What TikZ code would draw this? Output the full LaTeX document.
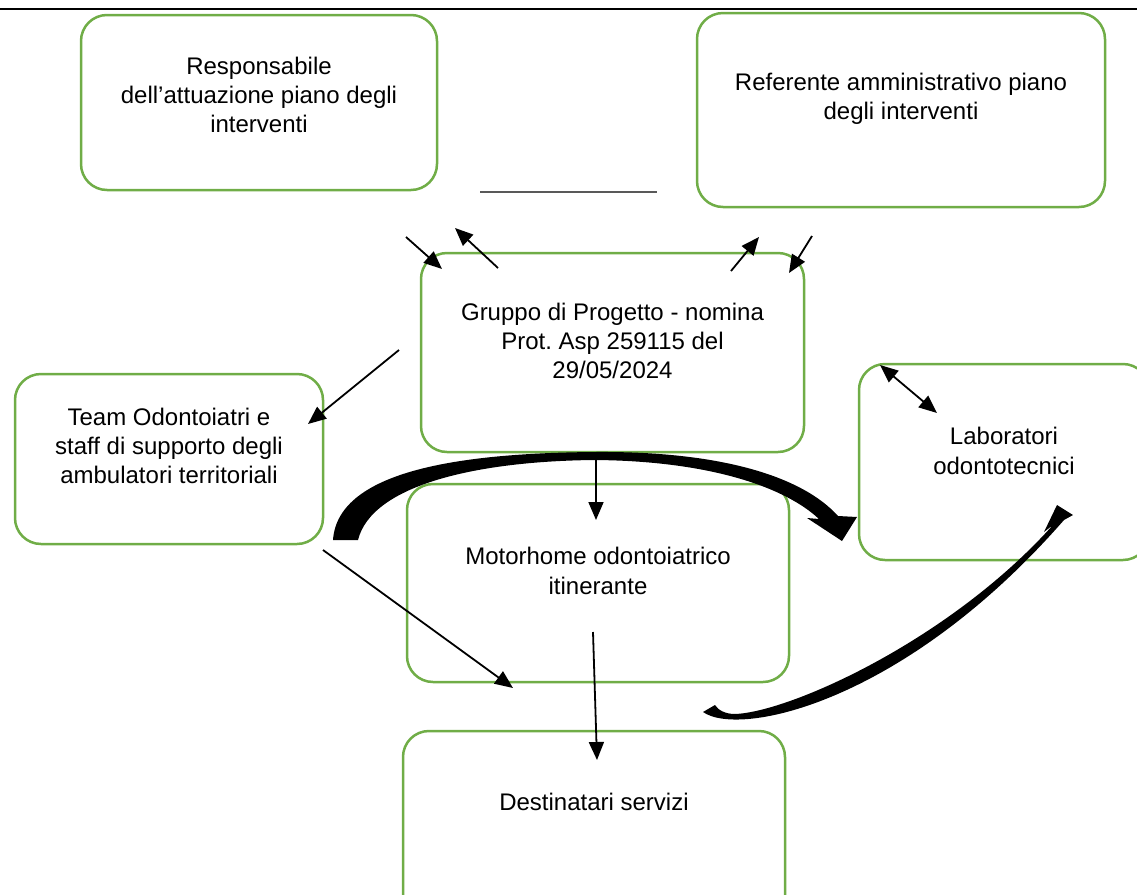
\documentclass[tikz,border=0pt]{standalone}
\usepackage{fontspec}
\setmainfont{Liberation Sans}
\usetikzlibrary{arrows.meta}
\definecolor{verde}{HTML}{70AD47}

\tikzset{
	riquadro/.style={draw=verde, line width=1.25pt, rounded corners=13pt, inner sep=0pt, outer sep=0pt},
	testo/.style={align=center, inner sep=0pt, font=\fontsize{12}{14.6}\selectfont},
	freccia/.style={-{Triangle[length=9pt,width=7.5pt]}, line width=0.9pt},
	doppia/.style={{Triangle[length=9pt,width=7.5pt]}-{Triangle[length=9pt,width=7.5pt]}, line width=0.9pt},
}

\begin{document}
\begin{tikzpicture}[x=0.5pt, y=-0.5pt]
	\useasboundingbox (0,0) rectangle (1137,895);

	\node[riquadro, minimum width=178pt, minimum height=87.5pt] (resp) at (259,102.5) {};
	\node[riquadro, minimum width=204pt, minimum height=97pt] (ref) at (901,110) {};
	\node[riquadro, minimum width=191.5pt, minimum height=99.5pt] (gruppo) at (612.5,352.5) {};
	\node[riquadro, minimum width=154pt, minimum height=85pt] (team) at (169,459) {};
	\node[riquadro, minimum width=145pt, minimum height=98pt] (lab) at (1004,462) {};
	\node[riquadro, minimum width=191pt, minimum height=99pt] (motor) at (598,583) {};
	\node[riquadro, minimum width=191pt, minimum height=99.5pt] (dest) at (594,830.5) {};

	\node[testo] (resp-t) at (259,95) {Responsabile\\dell’attuazione piano degli\\interventi};
	\node[testo] (ref-t) at (901,99) {Referente amministrativo piano\\degli interventi};
	\node[testo] (gruppo-t) at (612.5,341) {Gruppo di Progetto - nomina\\Prot.\ Asp 259115 del\\29/05/2024};
	\node[testo] (team-t) at (169,446) {Team Odontoiatri e\\staff di supporto degli\\ambulatori territoriali};
	\node[testo] (lab-t) at (1004,451) {Laboratori\\odontotecnici};
	\node[testo] (motor-t) at (598,571) {Motorhome odontoiatrico\\itinerante};
	\node[testo] (dest-t) at (594,802) {Destinatari servizi};

	\coordinate (bordo-sx) at (0,9);
	\coordinate (bordo-dx) at (1137,9);
	\coordinate (filo-sx) at (480,192);
	\coordinate (filo-dx) at (657,192);
	\coordinate (resp-giu) at (406,237);
	\coordinate (gruppo-nw) at (442,269);
	\coordinate (gruppo-su) at (498,268);
	\coordinate (resp-su) at (455,228);
	\coordinate (gruppo-ne) at (731,271);
	\coordinate (ref-su) at (759,237);
	\coordinate (ref-giu) at (812,236);
	\coordinate (gruppo-dx) at (789,273);
	\coordinate (gruppo-sx) at (399,350);
	\coordinate (team-in) at (308,424);
	\coordinate (lab-a) at (880,365);
	\coordinate (lab-b) at (937,413);
	\coordinate (gruppo-giu) at (596,459);
	\coordinate (motor-in) at (596,520);
	\coordinate (team-giu) at (323,550);
	\coordinate (dest-a) at (513,688);
	\coordinate (motor-giu) at (593,632);
	\coordinate (dest-in) at (597,760);

	\draw[line width=1.4pt] (bordo-sx) -- (bordo-dx);
	\draw[gray!70!black, line width=0.6pt] (filo-sx) -- (filo-dx);

	\draw[freccia] (resp-giu) -- (gruppo-nw);
	\draw[freccia] (gruppo-su) -- (resp-su);
	\draw[freccia] (gruppo-ne) -- (ref-su);
	\draw[freccia] (ref-giu) -- (gruppo-dx);
	\draw[freccia] (gruppo-sx) -- (team-in);
	\draw[doppia] (lab-a) -- (lab-b);
	\draw[freccia] (gruppo-giu) -- (motor-in);
	\draw[freccia] (team-giu) -- (dest-a);
	\draw[freccia] (motor-giu) -- (dest-in);

	% frecce curve
	\fill (333,540) .. controls (338,468) and (470,453) .. (595,452)
		.. controls (720,451) and (802,476) .. (838,516) -- (857,517) -- (842,541) -- (807,518) -- (819,519)
		.. controls (786,488) and (712,461) .. (595,460)
		.. controls (480,461) and (372,484) .. (358,540) -- cycle;
	\fill (703,712) .. controls (740,738) and (905,702) .. (1064,520) -- (1073,515) -- (1057,505) -- (1044,532) -- (1053,525)
		.. controls (950,640) and (790,712) .. (735,714)
		.. controls (725,714) and (718,710) .. (715,705) -- cycle;
\end{tikzpicture}
\end{document}
